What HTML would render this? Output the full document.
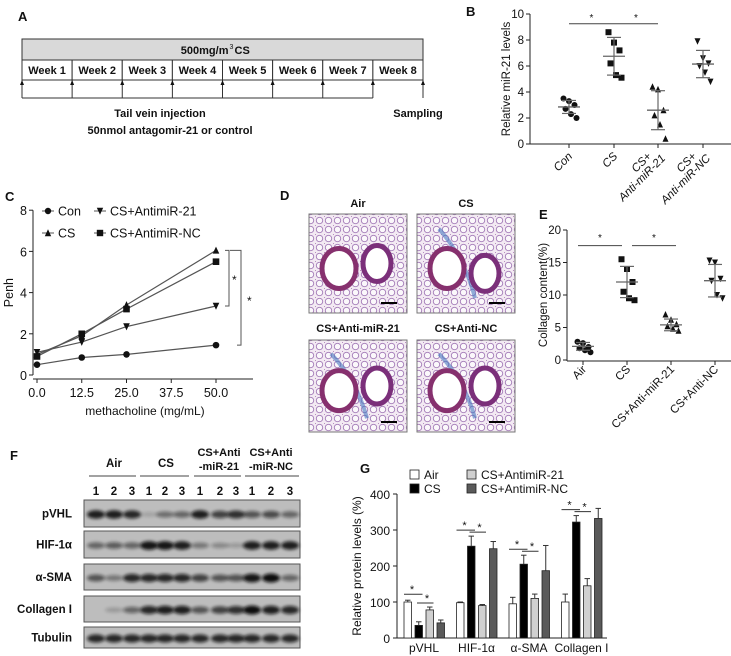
<!DOCTYPE html>
<html><head><meta charset="utf-8">
<style>
html,body{margin:0;padding:0;background:#fff;}
svg{display:block;font-family:"Liberation Sans",Arial,sans-serif;}
</style></head>
<body>
<svg id="fig" width="731" height="656" viewBox="0 0 731 656" xmlns="http://www.w3.org/2000/svg">
<defs>
<filter id="blur" x="-30%" y="-60%" width="160%" height="220%"><feGaussianBlur stdDeviation="1.6"/></filter>
<pattern id="lung" width="9" height="9" patternUnits="userSpaceOnUse">
<rect width="9" height="9" fill="#f3eaf3"/>
<circle cx="4.5" cy="4.5" r="3.2" fill="#fbf8fb" stroke="#a47cb8" stroke-width="0.9"/>
<circle cx="0" cy="0" r="0.9" fill="#8a4d9a"/>
</pattern>
</defs>
</svg>
<script>
// ---------- data ----------
const weekLabels=["Week 1","Week 2","Week 3","Week 4","Week 5","Week 6","Week 7","Week 8"];
const bCats=["Con","CS","CS+\nAnti-miR-21","CS+\nAnti-miR-NC"];
const bCon=[3.5,3.3,3.0,2.7,2.3,2.0];
const bCS=[8.6,7.8,7.2,6.2,5.3,5.1];
const bAnti=[4.4,4.2,2.6,2.2,1.5,0.4];
const bNC=[7.9,6.6,6.2,6.0,5.5,4.8];
const bMean=[2.85,6.75,2.6,6.15];
const bSD=[0.5,1.45,1.5,1.05];
const bTicks=[0,2,4,6,8,10];
const cDoses=[0,12.5,25,50];
const cTicks=[0,12.5,25,37.5,50];
const cYTicks=[0,2,4,6,8];
const cCon=[0.5,0.85,1.0,1.45];
const cCS=[1.0,1.9,3.4,6.05];
const cAnti=[1.1,1.6,2.35,3.35];
const cNC=[0.9,2.0,3.2,5.5];
const eCats=["Air","CS","CS+Anti-miR-21","CS+Anti-NC"];
const eAir=[2.8,2.6,2.0,1.8,1.5,1.2];
const eCS=[15.5,14.0,12.0,10.5,9.5,9.2];
const eAnti=[7.0,6.2,5.5,5.2,4.8,4.5];
const eNC=[15.3,15.0,12.5,12.2,10.0,9.5];
const eMean=[2.1,12.0,5.4,12.2];
const eSD=[0.6,2.4,0.9,2.5];
const eTicks=[0,5,10,15,20];
const gCats=["pVHL","HIF-1α","α-SMA","Collagen I"];
const gAir=[100,98,95,100];
const gCS=[35,255,205,322];
const gAnti=[78,90,110,145];
const gNC=[42,248,187,332];
const gAirErr=[5,2,18,22];
const gCSErr=[10,28,25,18];
const gAntiErr=[8,3,12,20];
const gNCErr=[8,20,70,28];
const gTicks=[0,100,200,300,400];
const blotRows=["pVHL","HIF-1α","α-SMA","Collagen I","Tubulin"];
const bandPVHL=[0.9,0.9,0.85,0.15,0.45,0.5,0.9,0.7,0.8,0.6,0.65,0.5];
const bandHIF=[0.5,0.55,0.5,0.95,0.95,0.9,0.4,0.3,0.2,0.9,0.9,0.9];
const bandSMA=[0.6,0.4,0.85,0.85,0.85,0.85,0.7,0.6,0.6,0.95,1,0.5];
const bandCol=[0,0.2,0.5,0.85,0.9,0.9,0.6,0.7,0.8,1,0.9,0.85];
const bandTub=[0.85,0.85,0.85,0.85,0.85,0.85,0.85,0.85,0.85,0.85,0.85,0.85];

const NS="http://www.w3.org/2000/svg";
const svg=document.getElementById('fig');
function mk(tag,attrs,parent,text){const e=document.createElementNS(NS,tag);for(const k in attrs)e.setAttribute(k,attrs[k]);if(text!==undefined)e.textContent=text;(parent||svg).appendChild(e);return e;}
function grp(name){const g=mk('g',{});


return g;}
function txt(p,x,y,s,o){return mk('text',Object.assign({x:x,y:y,'font-size':12,fill:'#111'},o||{}),p,s);}
function line(p,x1,y1,x2,y2,c,w){return mk('line',{x1:x1,y1:y1,x2:x2,y2:y2,stroke:c||'#222','stroke-width':w||1},p);}
function marker(p,type,x,y,s){s=s||3.2;
 if(type==='circle')return mk('circle',{cx:x,cy:y,r:s,fill:'#111'},p);
 if(type==='square')return mk('rect',{x:x-s,y:y-s,width:2*s,height:2*s,fill:'#111'},p);
 if(type==='up')return mk('polygon',{points:`${x},${y-s-0.5} ${x-s},${y+s} ${x+s},${y+s}`,fill:'#111'},p);
 return mk('polygon',{points:`${x},${y+s+0.5} ${x-s},${y-s} ${x+s},${y-s}`,fill:'#111'},p);}

// ---------- Panel A ----------
const A=grp('panel-a-timeline');
txt(A,18,21,'A',{'font-weight':'bold','font-size':13});
const ax0=22,ax1=423,aw=(ax1-ax0)/8;
const hdr=mk('rect',{x:ax0,y:39,width:ax1-ax0,height:21,fill:'#d9d9d9',stroke:'#333'},A);


txt(A,(ax0+ax1)/2,54,'500mg/m',{'text-anchor':'end','font-weight':'bold','font-size':11,dx:6});
txt(A,(ax0+ax1)/2+7,49,'3',{'font-size':7});
txt(A,(ax0+ax1)/2+12,54,'CS',{'font-weight':'bold','font-size':11});
weekLabels.forEach((w,i)=>{const x=ax0+i*aw;
 const r=mk('rect',{x:x,y:60,width:aw,height:20,fill:'#fff',stroke:'#333'},A);
 
 
 txt(A,x+aw/2,74,w,{'text-anchor':'middle','font-weight':'bold','font-size':11});});
for(let k=0;k<=8;k++){const x=ax0+k*aw;line(A,x,80,x,98,'#333');mk('polygon',{points:`${x},80 ${x-2},85 ${x+2},85`,fill:'#111'},A);}
line(A,ax0,98,ax0+7*aw,98,'#333');
txt(A,160,117,'Tail vein injection',{'text-anchor':'middle','font-weight':'bold','font-size':11});
txt(A,170,134,'50nmol antagomir-21 or control',{'text-anchor':'middle','font-weight':'bold','font-size':11});
txt(A,418,117,'Sampling',{'text-anchor':'middle','font-weight':'bold','font-size':11});

// ---------- scatter helper ----------
function scatterPanel(P,xs,sets,types,mean,sd,yf,ticks,axX,axRight,y0){
 line(P,axX,yf(ticks[ticks.length-1]),axX,y0,'#222');line(P,axX,y0,axRight,y0,'#222');
 ticks.forEach(t=>{line(P,axX-4,yf(t),axX,yf(t));txt(P,axX-6,yf(t)+4,String(t),{'text-anchor':'end','font-size':11.5});});
 xs.forEach(x=>line(P,x,y0,x,y0+4));
 sets.forEach((set,i)=>{set.forEach((v,j)=>{const off=((j%3)-1)*5.5+(j<3?0:2);const m=marker(P,types[i],xs[i]+off,yf(v),3);
  
  });
  line(P,xs[i]-11,yf(mean[i]),xs[i]+11,yf(mean[i]),'#666',1.3);
  line(P,xs[i],yf(mean[i]+sd[i]),xs[i],yf(mean[i]-sd[i]),'#666',1.2);
  line(P,xs[i]-7,yf(mean[i]+sd[i]),xs[i]+7,yf(mean[i]+sd[i]),'#666',1.2);
  line(P,xs[i]-7,yf(mean[i]-sd[i]),xs[i]+7,yf(mean[i]-sd[i]),'#666',1.2);});
}
const types=['circle','square','up','down'];

// ---------- Panel B ----------
const B=grp('panel-b-mir21');
txt(B,466,16,'B',{'font-weight':'bold','font-size':13});
const bx=[569,614,658,703];const yB=v=>144-v*13;
scatterPanel(B,bx,[bCon,bCS,bAnti,bNC],types,bMean,bSD,yB,bTicks,530,731,yB(0));
line(B,bx[0],yB(9.25),bx[1],yB(9.25),'#444');txt(B,(bx[0]+bx[1])/2,yB(9.45),'*',{'text-anchor':'middle','font-size':10});
line(B,bx[1],yB(9.25),bx[2],yB(9.25),'#444');txt(B,(bx[1]+bx[2])/2,yB(9.45),'*',{'text-anchor':'middle','font-size':10});
txt(B,0,0,'Relative miR-21 levels',{transform:`translate(510,${yB(5)}) rotate(-90)`,'text-anchor':'middle','font-size':11.5});
bCats.forEach((c,i)=>{const parts=c.split('\n');parts.forEach((p,k)=>{
 const dx=(parts.length>1?(k===0?-10:4):0);
 txt(B,0,0,p,{transform:`translate(${bx[i]+4+dx},${157+(k===0?0:2)}) rotate(-45)`,'text-anchor':'end','font-size':11.5,'font-style':'italic'});});});

// ---------- Panel C ----------
const C=grp('panel-c-penh');
txt(C,5,201,'C',{'font-weight':'bold','font-size':13});
const xC=v=>37+v*3.58, yC=v=>375-v*20.6;
line(C,33,yC(8),33,375);line(C,33,379,253,379);
cYTicks.forEach(t=>{line(C,29,yC(t),33,yC(t));txt(C,27,yC(t)+5,String(t),{'text-anchor':'end','font-size':12.5});});
cTicks.forEach(t=>{line(C,xC(t),379,xC(t),383);txt(C,xC(t),397,t.toFixed(1),{'text-anchor':'middle','font-size':12.5});});
txt(C,145,415,'methacholine (mg/mL)',{'text-anchor':'middle','font-size':12});
txt(C,0,0,'Penh',{transform:`translate(13,${yC(4)}) rotate(-90)`,'text-anchor':'middle','font-size':12.5});
[[cCon,'circle','series-con'],[cCS,'up','series-cs'],[cAnti,'down','series-antimir21'],[cNC,'square','series-antimir-nc']].forEach(([d,t,n])=>{
 const pl=mk('polyline',{points:d.map((v,i)=>xC(cDoses[i])+','+yC(v)).join(' '),fill:'none',stroke:'#555','stroke-width':1.2},C);
 
 
 d.forEach((v,i)=>{marker(C,t,xC(cDoses[i]),yC(v),3.3);});});
const bx1=229,bx2=241;
mk('polyline',{points:`${bx1-4},${yC(6.05)} ${bx1},${yC(6.05)} ${bx1},${yC(3.35)} ${bx1-4},${yC(3.35)}`,fill:'none',stroke:'#555'},C);
txt(C,bx1+3,yC(4.6)+4,'*',{'font-size':12});
mk('polyline',{points:`${bx1+1},${yC(6.05)} ${bx2},${yC(6.05)} ${bx2},${yC(1.45)} ${bx2-4},${yC(1.45)}`,fill:'none',stroke:'#555'},C);
txt(C,bx2+6,yC(3.6)+4,'*',{'font-size':12});
[['circle','Con',48,211],['down','CS+AntimiR-21',100,211],['up','CS',48,233],['square','CS+AntimiR-NC',100,233]].forEach(([t,l,x,y])=>{
 line(C,x-6,y,x+6,y,'#555');marker(C,t,x,y,3.2);txt(C,x+10,y+4.5,l,{'font-size':12.5});});

// ---------- Panel D ----------
const D=grp('panel-d-histology');
txt(D,280,200,'D',{'font-weight':'bold','font-size':13});
const imgs=[[309,214,'Air',358,207],[417,214,'CS',466,207],[309,340,'CS+Anti-miR-21',358,332],[417,340,'CS+Anti-NC',466,332]];
imgs.forEach(([x,y,l,lx,ly],i)=>{
 txt(D,lx,ly,l,{'text-anchor':'middle','font-weight':'bold','font-size':11});
 const h=i<2?99:92;
 const r=mk('rect',{x:x,y:y,width:98,height:h,fill:'url(#lung)',stroke:'#777'},D);
 
 
 if(i>0)mk('path',{d:`M${x+22} ${y+h*0.15} Q${x+48} ${y+h*0.45} ${x+58} ${y+h*0.85}`,stroke:'#4a78c0','stroke-width':4,fill:'none',opacity:0.6},D);
 mk('ellipse',{cx:x+30,cy:y+h*0.55,rx:17,ry:20,fill:'#fff',stroke:'#86306e','stroke-width':5},D);
 mk('ellipse',{cx:x+68,cy:y+h*(i===1?0.6:0.5),rx:14,ry:18,fill:'#fff',stroke:'#7b2f7a','stroke-width':5},D);
 line(D,x+72,y+h-10,x+88,y+h-10,'#000',2);});

// ---------- Panel E ----------
const E=grp('panel-e-collagen');
txt(E,539,219,'E',{'font-weight':'bold','font-size':13});
const ex=[583,627,671,715];const yE=v=>360-v*6.5;
scatterPanel(E,ex,[eAir,eCS,eAnti,eNC],types,eMean,eSD,yE,eTicks,567,731,yE(0)+1);
line(E,ex[0]-5,yE(17.6),ex[1]-5,yE(17.6),'#444');txt(E,(ex[0]+ex[1])/2-5,yE(18.3),'*',{'text-anchor':'middle','font-size':10});
line(E,ex[1]+5,yE(17.6),ex[2]+5,yE(17.6),'#444');txt(E,(ex[1]+ex[2])/2+5,yE(18.3),'*',{'text-anchor':'middle','font-size':10});
txt(E,0,0,'Collagen content(%)',{transform:`translate(547,${yE(10)}) rotate(-90)`,'text-anchor':'middle','font-size':11.5});
eCats.forEach((c,i)=>txt(E,0,0,c,{transform:`translate(${ex[i]+4},${370}) rotate(-45)`,'text-anchor':'end','font-size':11.5}));

// ---------- Panel F ----------
const F=grp('panel-f-western-blot');
txt(F,10,460,'F',{'font-weight':'bold','font-size':13});
const laneX=[96,114,132,149,165,182,200,220,236,252,271,290];
[['Air',114,[89,136]],['CS',166,[140,189]],['CS+Anti\n-miR-21',219,[194,241]],['CS+Anti\n-miR-NC',271,[245,299]]].forEach(([l,x,[a,b]])=>{
 const p=l.split('\n');if(p.length===1)txt(F,x,467,l,{'text-anchor':'middle','font-weight':'bold','font-size':11.5});
 else{txt(F,x,456,p[0],{'text-anchor':'middle','font-weight':'bold','font-size':11});txt(F,x,470,p[1],{'text-anchor':'middle','font-weight':'bold','font-size':11});}
 line(F,a,476,b,476,'#444');});
laneX.forEach((x,i)=>txt(F,x,495,String(i%3+1),{'text-anchor':'middle','font-weight':'bold','font-size':11.5}));
const rowY=[[500,527],[531,558],[564,590],[596,622],[627,648]];
[bandPVHL,bandHIF,bandSMA,bandCol,bandTub].forEach((bands,r)=>{
 const [y0,y1]=rowY[r];
 const rr=mk('rect',{x:84,y:y0,width:216,height:y1-y0,fill:'#bdbdbd',stroke:'#555'},F);
 
 
 txt(F,72,(y0+y1)/2+4,blotRows[r],{'text-anchor':'end','font-weight':'bold','font-size':11.5});
 bands.forEach((v,i)=>{if(v>0)mk('ellipse',{cx:laneX[i],cy:(y0+y1)/2+1,rx:9,ry:2+v*2.5,fill:'#111',opacity:Math.min(1,v),filter:'url(#blur)'},F);});});

// ---------- Panel G ----------
const G=grp('panel-g-protein-bars');
txt(G,360,473,'G',{'font-weight':'bold','font-size':13});
const yG=v=>638-v*0.36;const gx=i=>404+i*52.5;const barW=7.5,step=11;
line(G,397,yG(400),397,yG(0));line(G,397,yG(0),607,yG(0));
gTicks.forEach(t=>{line(G,393,yG(t),397,yG(t));txt(G,390,yG(t)+5,String(t),{'text-anchor':'end','font-size':12});});
txt(G,0,0,'Relative protein levels (%)',{transform:`translate(361,${yG(200)}) rotate(-90)`,'text-anchor':'middle','font-size':12});
const gFill=['#fff','#000','#d0d0d0','#5a5a5a'];
[[gAir,gAirErr],[gCS,gCSErr],[gAnti,gAntiErr],[gNC,gNCErr]].forEach(([vals,errs],s)=>{
 vals.forEach((v,i)=>{const x=gx(i)+s*step;
  const b=mk('rect',{x:x,y:yG(v),width:barW,height:yG(0)-yG(v),fill:gFill[s],stroke:'#222','stroke-width':0.8},G);
  
  
  line(G,x+barW/2,yG(v),x+barW/2,yG(v+errs[i]),'#333');line(G,x+1,yG(v+errs[i]),x+barW-1,yG(v+errs[i]),'#333');});});
gCats.forEach((c,i)=>txt(G,gx(i)+20,652,c,{'text-anchor':'middle','font-size':12}));
gCats.forEach((c,i)=>{const top=Math.max(gAir[i]+gAirErr[i],gCS[i]+gCSErr[i]);const y=yG(top)-6;
 line(G,gx(i),y,gx(i)+step+barW,y,'#333');txt(G,gx(i)+8,y-1,'*',{'text-anchor':'middle','font-size':11});
 const y2=yG(Math.max(gCS[i]+gCSErr[i],gAnti[i]+gAntiErr[i]))-6;
 line(G,gx(i)+step+2,y2+2,gx(i)+2*step+barW,y2+2,'#333');txt(G,gx(i)+step+12,y2+1,'*',{'text-anchor':'middle','font-size':11});});
[['Air',0,410,479],['CS',1,410,493],['CS+AntimiR-21',2,467,479],['CS+AntimiR-NC',3,467,493]].forEach(([l,s,x,y])=>{
 const lb=mk('rect',{x:x,y:y-9,width:9,height:9,fill:gFill[s],stroke:'#222','stroke-width':0.8},G);
 
 
 txt(G,x+14,y,l,{'font-size':12});});
</script>
</body></html>
